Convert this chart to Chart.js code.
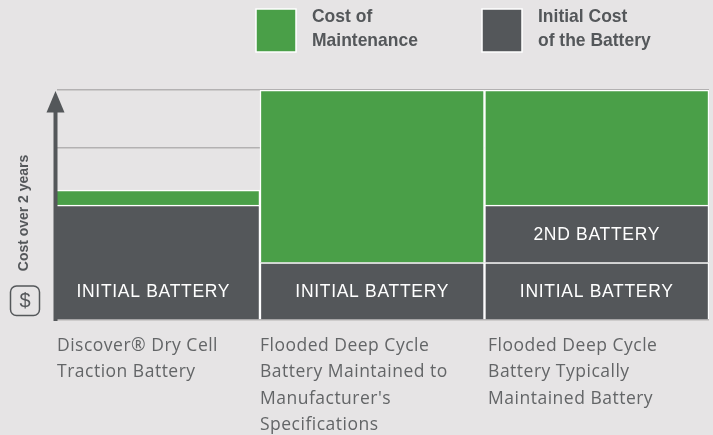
<!DOCTYPE html>
<html>
  <head>
    <title>Battery cost over 2 years</title>
    <style>
      body {
        margin: 0;
        background: #e6e4e5;
      }
      #wrap {
        width: 713px;
        height: 435px;
      }
    </style>
    <script src="https://cdn.jsdelivr.net/npm/chart.js@4/dist/chart.umd.min.js"></script>
  </head>
  <body>
    <div id="wrap"><canvas id="canvas"></canvas></div>
    <script>
      const categories = [
        ['Discover® Dry Cell', 'Traction Battery'],
        ['Flooded Deep Cycle', 'Battery Maintained to', "Manufacturer's", 'Specifications'],
        ['Flooded Deep Cycle', 'Battery Typically', 'Maintained Battery'],
      ];
      // one grid step = 1
      const initialBattery = [2, 1, 1];
      const secondBattery = [0, 0, 1];
      const maintenance = [0.26, 3, 2];
      const initialLabels = ['INITIAL BATTERY', 'INITIAL BATTERY', 'INITIAL BATTERY'];
      const secondLabels = ['', '', '2ND BATTERY'];
      const legendLabels = [['Cost of', 'Maintenance'], ['Initial Cost', 'of the Battery']];
      const yTitle = 'Cost over 2 years';

      const GREEN = '#4a9f48';
      const DARK = '#54575a';
      const X_MIN = 0.096;
      const toPoints = (arr) => arr.map((v, i) => ({ x: i + 0.5, y: v }));

      // no narrow font installed, squeeze the bold one
      const narrowText = (ctx, text, x, y, squeeze) => {
        ctx.save();
        ctx.translate(x, y);
        ctx.scale(squeeze, 1);
        ctx.fillText(text, 0, 0);
        ctx.restore();
      };

      const annotations = {
        id: 'annotations',
        beforeDraw(chart) {
          // the axis labels run a bit wider than the installed font
          chart.ctx.letterSpacing = '0.5px';
        },
        afterDatasetsDraw(chart) {
          const { ctx, scales } = chart;
          const x = scales.x;
          const y = scales.y;
          ctx.save();

          // labels inside the bars
          ctx.fillStyle = '#fff';
          ctx.font = '17.5px "Liberation Sans"';
          ctx.letterSpacing = '0.7px';
          ctx.textAlign = 'center';
          ctx.textBaseline = 'middle';
          initialLabels.forEach((t, i) => {
            const px = i === 0 ? x.getPixelForValue(0.525) : x.getPixelForValue(i + 0.5);
            ctx.fillText(t, px, y.getPixelForValue(0.5) + 1);
          });
          secondLabels.forEach((t, i) => {
            if (t) ctx.fillText(t, x.getPixelForValue(i + 0.5), y.getPixelForValue(1.5) + 1);
          });
          ctx.letterSpacing = '0px';

          // arrow on the y axis
          ctx.fillStyle = DARK;
          ctx.fillRect(53.5, 110, 4, 211);
          ctx.beginPath();
          ctx.moveTo(55.5, 91);
          ctx.lineTo(64.5, 112.5);
          ctx.lineTo(46.5, 112.5);
          ctx.closePath();
          ctx.fill();

          // $ box
          ctx.strokeStyle = DARK;
          ctx.lineWidth = 1.5;
          ctx.beginPath();
          ctx.roundRect(10.5, 286, 29, 29.5, 6);
          ctx.stroke();
          ctx.font = '20px "Liberation Sans"';
          ctx.fillText('$', 25, 301);

          // y axis title
          ctx.save();
          ctx.translate(24, 213);
          ctx.rotate(-Math.PI / 2);
          ctx.font = 'bold 15px "Liberation Sans"';
          narrowText(ctx, yTitle, 0, 0, 0.93);
          ctx.restore();

          // legend
          const swatches = [
            [256, GREEN, 312],
            [482, DARK, 538],
          ];
          swatches.forEach(([sx, color, tx], i) => {
            ctx.fillStyle = color;
            ctx.strokeStyle = '#fff';
            ctx.lineWidth = 1.5;
            ctx.fillRect(sx, 9, 40, 43);
            ctx.strokeRect(sx, 9, 40, 43);
            ctx.fillStyle = DARK;
            ctx.font = 'bold 19px "Liberation Sans"';
            ctx.textAlign = 'left';
            legendLabels[i].forEach((line, j) => {
              narrowText(ctx, line, tx, 17 + j * 24, 0.92);
            });
          });
          ctx.restore();
        },
      };

      new Chart(document.getElementById('canvas'), {
        type: 'bar',
        data: {
          datasets: [
            { label: 'Initial Cost of the Battery', data: toPoints(initialBattery), backgroundColor: DARK },
            { label: 'Second battery', data: toPoints(secondBattery), backgroundColor: DARK },
            { label: 'Cost of Maintenance', data: toPoints(maintenance), backgroundColor: GREEN },
          ],
        },
        options: {
          responsive: true,
          maintainAspectRatio: false,
          animation: false,
          events: [],
          layout: { padding: { left: 57, right: 4, top: 90, bottom: 0 } },
          datasets: {
            bar: {
              barThickness: 224.5,
              borderColor: '#fff',
              borderWidth: 1.5,
            },
          },
          plugins: { legend: { display: false }, tooltip: { enabled: false } },
          scales: {
            x: {
              type: 'linear',
              stacked: true,
              offset: false,
              min: X_MIN,
              max: 3,
              grid: { display: false },
              border: { display: false },
              afterBuildTicks(scale) {
                scale.ticks = [{ value: X_MIN }, { value: 1 }, { value: 2.016 }];
              },
              afterFit(scale) {
                scale.height = 115;
                scale.paddingLeft = 0;
                scale.paddingRight = 0;
              },
              ticks: {
                autoSkip: false,
                maxRotation: 0,
                align: 'start',
                padding: 5,
                color: '#636567',
                font: { family: 'Open Sans', size: 17.5, lineHeight: 1.5 },
                callback: (value, i) => categories[i],
              },
            },
            y: {
              stacked: true,
              min: 0,
              max: 4,
              ticks: { display: false, stepSize: 1 },
              border: { display: false },
              grid: { color: '#b3b1b2', lineWidth: 1.5, drawTicks: false },
              afterFit(scale) {
                scale.width = 0;
              },
            },
          },
        },
        plugins: [annotations],
      });
    </script>
  </body>
</html>
